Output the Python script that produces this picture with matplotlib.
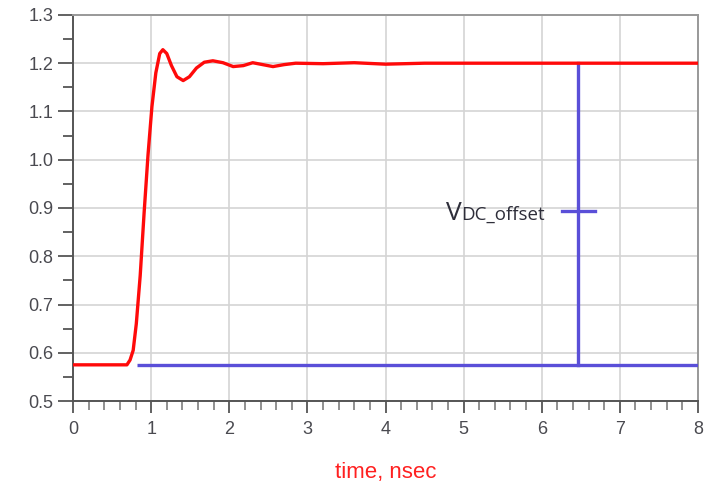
import numpy as np
import matplotlib
matplotlib.use('Agg')
import matplotlib.pyplot as plt
from matplotlib.ticker import MultipleLocator, FormatStrFormatter

# step response (time in nsec, volts)
t_ns = [0, 0.69, 0.73, 0.77, 0.81, 0.86, 0.91, 0.96, 1.01, 1.06, 1.11, 1.15,
        1.20, 1.26, 1.33, 1.41, 1.49, 1.58, 1.68, 1.79, 1.92, 2.05, 2.18,
        2.30, 2.43, 2.56, 2.70, 2.85, 3.2, 3.6, 4.0, 4.5, 5.0, 8.0]
v_out = [0.575, 0.575, 0.585, 0.605, 0.66, 0.76, 0.89, 1.01, 1.11, 1.18, 1.22, 1.228,
         1.22, 1.195, 1.172, 1.164, 1.172, 1.19, 1.202, 1.205, 1.201, 1.193, 1.195,
         1.201, 1.197, 1.193, 1.197, 1.2, 1.199, 1.201, 1.198, 1.2, 1.2, 1.2]

# offset marker
v_low = 0.575
v_high = 1.2
t_base_start = 0.82
t_marker = 6.47
marker_y = 0.894
marker_half = 0.21
label_x = 4.97
label_y = 0.876

fig = plt.figure(figsize=(7.11, 4.82), dpi=100)
ax = fig.add_axes([0.1027, 0.168, 0.879, 0.801])

ax.set_xlim(0, 8)
ax.set_ylim(0.5, 1.3)
ax.xaxis.set_major_locator(MultipleLocator(1))
ax.xaxis.set_minor_locator(MultipleLocator(0.2))
ax.yaxis.set_major_locator(MultipleLocator(0.1))
ax.yaxis.set_minor_locator(MultipleLocator(0.05))
ax.yaxis.set_major_formatter(FormatStrFormatter('%.1f'))

ax.grid(True, which='major', color='#d4d4d4', lw=1.2)
ax.set_axisbelow(True)

blue = '#5a4fd8'
ax.plot([t_base_start, 8], [v_low, v_low], color=blue, lw=2.4, solid_capstyle='butt', zorder=3)
ax.plot([t_marker, t_marker], [v_low, v_high], color=blue, lw=2.4, zorder=3)
ax.plot([t_marker - marker_half, t_marker + marker_half], [marker_y, marker_y],
        color=blue, lw=2.4, zorder=3)
ax.plot(t_ns, v_out, color='#ff0a0a', lw=2.4, zorder=4, solid_joinstyle='round')

txt_color = '#2e2e3a'
ax.text(label_x, label_y, 'DC_offset', fontsize=13.5, family='Open Sans', color=txt_color,
        ha='left', va='baseline')
ax.text(label_x, label_y, 'V', fontsize=19, family='Open Sans', color=txt_color,
        ha='right', va='baseline')

for side in ['left', 'bottom']:
    ax.spines[side].set_color('#555555')
    ax.spines[side].set_linewidth(1.4)
for side in ['top', 'right']:
    ax.spines[side].set_color('#999999')
    ax.spines[side].set_linewidth(1.4)

ax.tick_params(axis='y', which='major', length=11, width=1.3, color='#555555',
               labelsize=13, labelcolor='#4a4a50', pad=3)
ax.tick_params(axis='y', which='minor', length=7, width=1.3, color='#555555')
ax.tick_params(axis='x', which='major', length=8.6, width=1.3, color='#555555',
               labelsize=13, labelcolor='#4a4a50', pad=6)
ax.tick_params(axis='x', which='minor', length=6.5, width=1.3, color='#888888')
for lab in ax.get_xticklabels() + ax.get_yticklabels():
    lab.set_family('Liberation Sans')

ax.set_xlabel('time, nsec', color='#ff2020', fontsize=16, family='Liberation Sans',
              labelpad=17)

fig.savefig('out.png', dpi=100)
